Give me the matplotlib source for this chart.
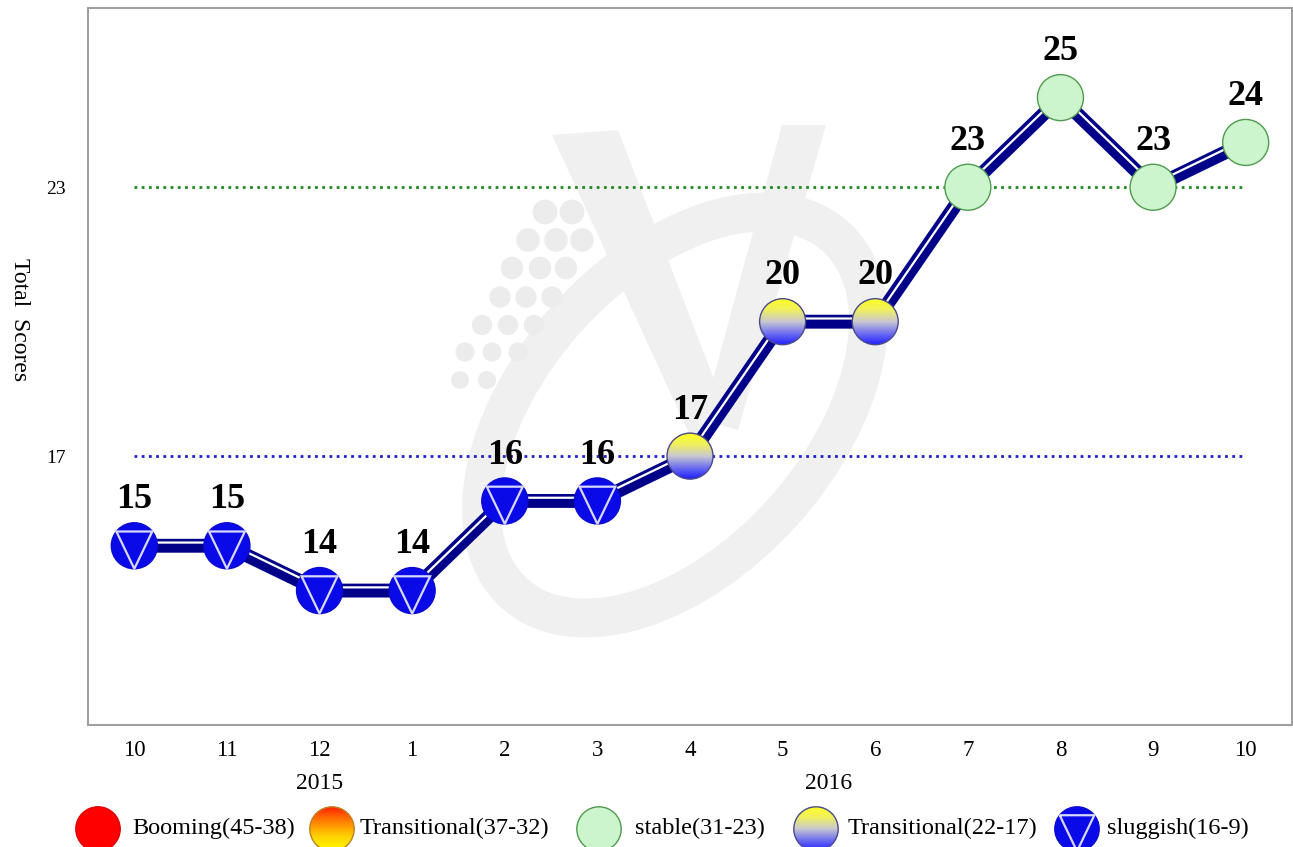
import numpy as np
import matplotlib
matplotlib.use("Agg")
import matplotlib.pyplot as plt
from matplotlib.patches import Circle, Polygon, Ellipse
from matplotlib.colors import LinearSegmentedColormap
from matplotlib.transforms import ScaledTranslation

plt.rcParams["font.family"] = ["Liberation Serif", "DejaVu Serif"]

# ── Data ──────────────────────────────────────────────────────────────────────
months = ["10", "11", "12", "1", "2", "3", "4", "5", "6", "7", "8", "9", "10"]
scores = [15, 15, 14, 14, 16, 16, 17, 20, 20, 23, 25, 23, 24]
years = ["2015", "2016"]
year_pos = [2, 7.5]            # category positions under which the years sit
ref_levels = [23, 17]
ref_colors = ["#1f8a1f", "#1f1fd0"]
legend_labels = ["Booming(45-38)", "Transitional(37-32)", "stable(31-23)",
                 "Transitional(22-17)", "sluggish(16-9)"]
legend_kinds = ["booming", "trans_hi", "stable", "trans_lo", "sluggish"]


def kind_of(v):
    if v >= 23:
        return "stable"
    if v >= 17:
        return "trans_lo"
    return "sluggish"


# ── Figure ────────────────────────────────────────────────────────────────────
W, H = 1293, 847
fig = plt.figure(figsize=(W / 100, H / 100), dpi=100)

# faint watermark in the background (pixel coords, origin top-left)
bg = fig.add_axes([0, 0, 1, 1], zorder=0)
bg.set_xlim(0, W)
bg.set_ylim(H, 0)
bg.axis("off")
wm = "#f0f0f0"
bg.add_patch(Ellipse((675, 415), 480, 290, angle=-48, fill=False,
                     edgecolor=wm, lw=28))
bg.add_patch(Polygon([(552, 135), (618, 130), (722, 400), (692, 440)],
                     closed=True, color=wm, lw=0))
bg.add_patch(Polygon([(782, 125), (826, 125), (738, 430), (702, 420)],
                     closed=True, color=wm, lw=0))
dot_rows = [(380, [460, 487]), (352, [465, 492, 518]), (325, [482, 508, 534]),
            (297, [500, 526, 552]), (268, [512, 540, 566]), (240, [528, 556, 582]),
            (212, [545, 572])]
for yy, xs in dot_rows:
    for xx in xs:
        bg.add_patch(Circle((xx, yy), 9 + (380 - yy) / 50, color="#ececec", lw=0))

ax = fig.add_axes([88 / W, 122 / H, 1204 / W, 717 / H], zorder=1)
ax.patch.set_alpha(0)
ax.set_xlim(-0.5, len(scores) - 0.5)
ax.set_ylim(11, 27)

# reference lines
for lvl, c in zip(ref_levels, ref_colors):
    ax.plot([0, len(scores) - 1], [lvl, lvl], color=c, lw=2,
            linestyle=(0, (1, 1.6)), zorder=2)

# thick navy line with white stripe
xs = np.arange(len(scores))
ax.plot(xs, scores, color="#000088", lw=10, solid_capstyle="butt", zorder=3)
stripe = ax.transData + ScaledTranslation(0, 2.3 / 72, fig.dpi_scale_trans)
ax.plot(xs, scores, color="white", lw=1.6, transform=stripe, zorder=4)

grad_lo = LinearSegmentedColormap.from_list(
    "lo", ["#ffff20", "#f0f060", "#c8c8d0", "#7070f0", "#2020ff"])
grad_hi = LinearSegmentedColormap.from_list(
    "hi", ["#ff2000", "#ff8000", "#ffd000", "#ffff00"])


def draw_marker(a, x, y, kind, r=0.23):
    tr = fig.dpi_scale_trans + ScaledTranslation(x, y, a.transData)
    if kind in ("trans_lo", "trans_hi"):
        cmap = grad_lo if kind == "trans_lo" else grad_hi
        edge = "#4a4a8a" if kind == "trans_lo" else "#c08020"
        circ = Circle((0, 0), r, transform=tr, facecolor="none",
                      edgecolor=edge, lw=1, zorder=7)
        cx, cy = a.transData.transform((x, y))
        inv = a.transData.inverted()
        x0, y0 = inv.transform((cx - r * 100, cy - r * 100))
        x1, y1 = inv.transform((cx + r * 100, cy + r * 100))
        img = np.linspace(0, 1, 100).reshape(-1, 1)
        im = a.imshow(img, cmap=cmap, extent=(x0, x1, y0, y1), origin="upper",
                      aspect="auto", zorder=6, interpolation="bilinear")
        im.set_clip_path(circ)
        a.add_patch(circ)
    elif kind == "stable":
        a.add_patch(Circle((0, 0), r, transform=tr, facecolor="#cdf5cd",
                           edgecolor="#4f9a4f", lw=1, zorder=6))
    elif kind == "booming":
        a.add_patch(Circle((0, 0), r, transform=tr, facecolor="#ff0000",
                           edgecolor="#e00000", lw=1, zorder=6))
    else:
        a.add_patch(Circle((0, 0), r, transform=tr, facecolor="#0a0ae8",
                           edgecolor="#0a0ad0", lw=1, zorder=6))
        tri = [(-0.78 * r, 0.62 * r), (0.78 * r, 0.62 * r), (0, -r)]
        a.add_patch(Polygon(tri, closed=True, transform=tr, fill=False,
                            edgecolor="#d8d8ff", lw=1.6, zorder=7))


for i, v in enumerate(scores):
    draw_marker(ax, i, v, kind_of(v))
    ax.annotate(str(v), (i, v), xytext=(0, 33), textcoords="offset points",
                ha="center", va="center", fontsize=26, fontweight="bold",
                zorder=8)

ax.set_ylim(11, 27)
ax.set_xlim(-0.5, len(scores) - 0.5)
ax.set_xticks(xs)
ax.set_xticklabels(months, fontsize=16.5)
ax.set_yticks(ref_levels)
ax.set_yticklabels([str(l) for l in ref_levels], fontsize=14)
ax.tick_params(length=0)
ax.tick_params(axis="x", pad=11)
ax.tick_params(axis="y", pad=16)
for s in ax.spines.values():
    s.set_color("#a0a0a0")
    s.set_linewidth(1.5)

fig.text(19 / W, 1 - 320 / H, "Total  Scores", rotation=270, ha="center",
         va="center", fontsize=17)
for yr, p in zip(years, year_pos):
    px = ax.transData.transform((p, 0))[0]
    fig.text(px / W, 1 - 783 / H, yr, ha="center", va="center", fontsize=17)

# legend strip in pixel coordinates
lax = fig.add_axes([0, 0, 1, 60 / H], zorder=2)
lax.set_xlim(0, W)
lax.set_ylim(0, 60)
lax.axis("off")
leg_cx = [98, 332, 599, 816, 1077]
leg_tx = [132, 360, 635, 848, 1107]
for cx, tx, lab, k in zip(leg_cx, leg_tx, legend_labels, legend_kinds):
    draw_marker(lax, cx, 18, k, r=0.222)
    lax.text(tx, 19, lab, ha="left", va="center", fontsize=17.5)

fig.savefig("out.png", dpi=100)
